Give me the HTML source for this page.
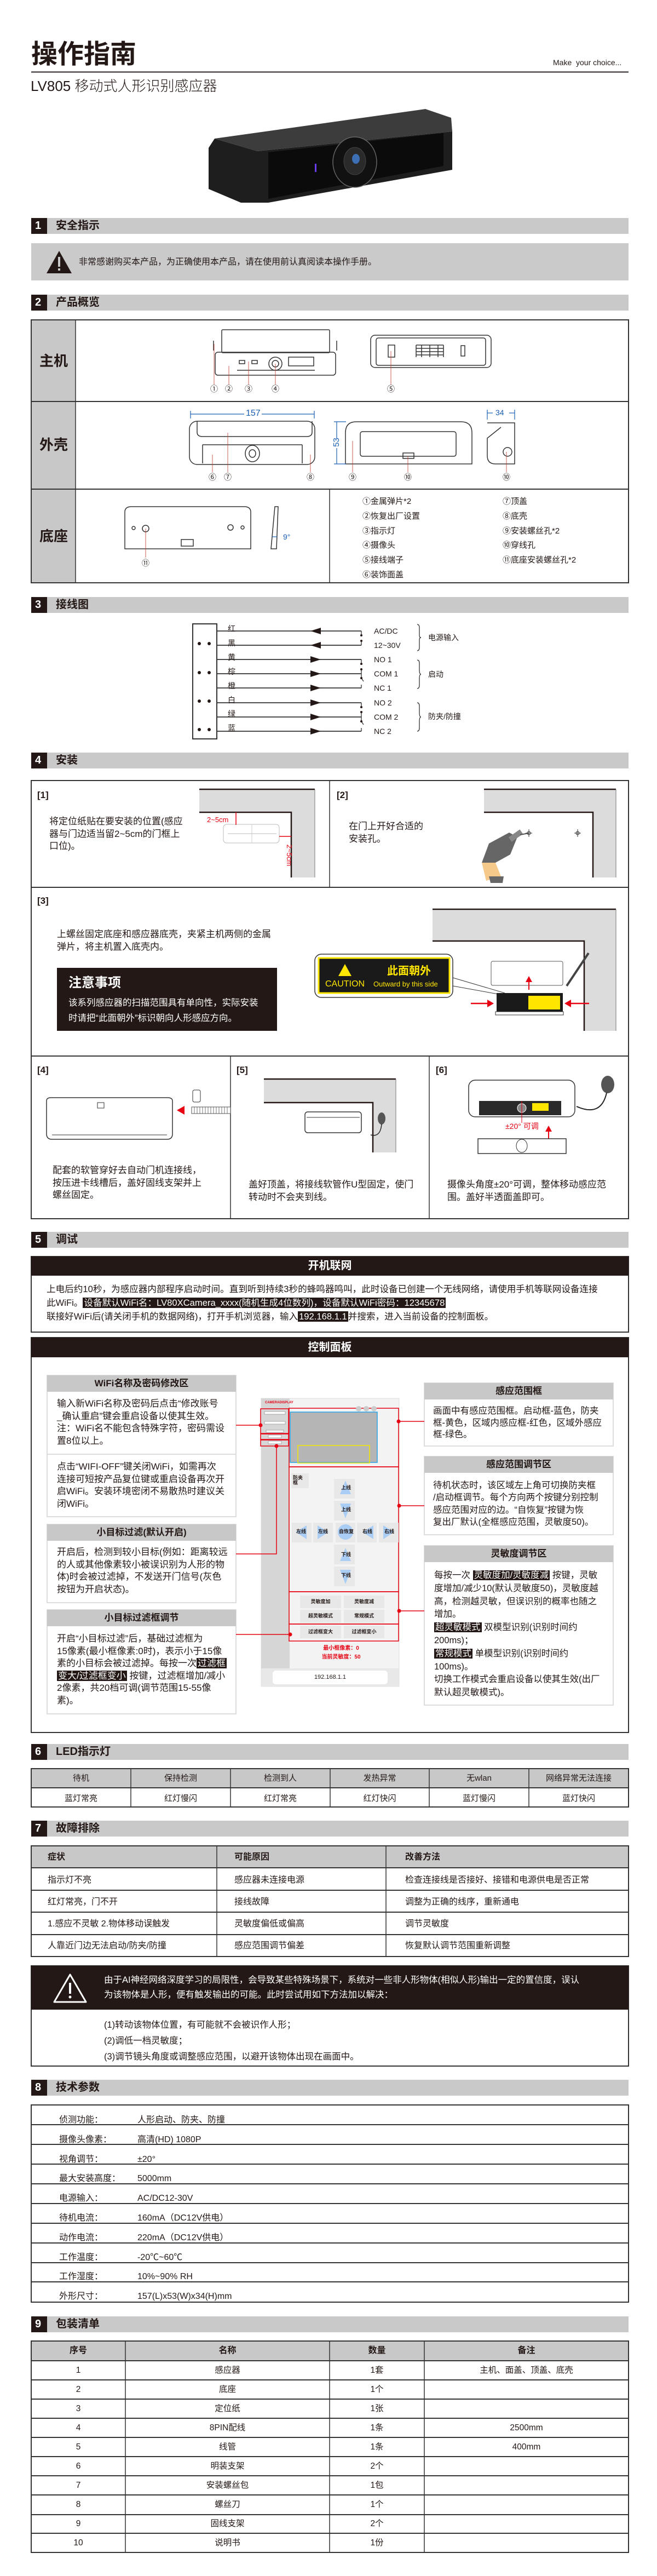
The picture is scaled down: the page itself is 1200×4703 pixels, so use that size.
<!DOCTYPE html>
<html><head><meta charset="utf-8">
<style>
*{margin:0;padding:0;box-sizing:border-box}
html,body{width:1200px;height:4703px;background:#fff;overflow:hidden}
body{position:relative;font-family:"Liberation Sans Narrow","Liberation Sans","Noto Sans CJK SC",sans-serif;color:#231815}
.t{position:absolute;white-space:nowrap;line-height:1}
.p{position:absolute;white-space:nowrap;font-size:17px;line-height:22.5px;color:#231815}
.b{font-weight:bold}
.c{text-align:center}
.hl{background:#231815;color:#fff;padding:0 2px}
svg{position:absolute;left:0;top:0}
</style></head><body>
<svg width="1200" height="4703" viewBox="0 0 1200 4703" xmlns="http://www.w3.org/2000/svg">
<!-- title line -->
<rect x="57" y="130" width="1091" height="3" fill="#6e6969"/>
<!-- camera -->
<polygon points="392,253 777,199 824,215 826,240 470,276" fill="#3c3c3c"/>
<polygon points="392,253 470,276 826,240 826,310 490,370 440,370 381,345 381,270" fill="#1e1e1e"/>
<polygon points="490,278 810,243 810,303 490,363" fill="#0b0b0b"/>
<ellipse cx="648" cy="296" rx="40" ry="46" fill="#111" stroke="#666" stroke-width="1.5"/>
<ellipse cx="648" cy="294" rx="20" ry="25" fill="#2a2a2a" stroke="#444"/>
<ellipse cx="650" cy="290" rx="7" ry="9" fill="#3d6fb5"/>
<rect x="575" y="299" width="3" height="15" fill="#6a3df0"/>

<!-- section header bars -->
<g fill="#c9c9c9">
<rect x="57" y="398" width="1091" height="29"/><rect x="57" y="538" width="1091" height="29"/>
<rect x="57" y="1090" width="1091" height="29"/><rect x="57" y="1374" width="1091" height="29"/>
<rect x="57" y="2249" width="1091" height="29"/><rect x="57" y="3184" width="1091" height="29"/>
<rect x="57" y="3324" width="1091" height="29"/><rect x="57" y="3797" width="1091" height="29"/>
<rect x="57" y="4229" width="1091" height="29"/>
</g>
<g fill="#231815">
<rect x="57" y="398" width="29" height="29"/><rect x="57" y="538" width="29" height="29"/>
<rect x="57" y="1090" width="29" height="29"/><rect x="57" y="1374" width="29" height="29"/>
<rect x="57" y="2249" width="29" height="29"/><rect x="57" y="3184" width="29" height="29"/>
<rect x="57" y="3324" width="29" height="29"/><rect x="57" y="3797" width="29" height="29"/>
<rect x="57" y="4229" width="29" height="29"/>
</g>

<!-- warning box -->
<rect x="57" y="444" width="1091" height="68" fill="#cacaca"/>
<polygon points="108,458 131,499 85,499" fill="#231815"/>
<rect x="106" y="469" width="4" height="18" fill="#cacaca"/><rect x="106" y="490" width="4" height="4" fill="#cacaca"/>

<!-- overview table -->
<rect x="57" y="584" width="81" height="480" fill="#c8c8c8"/>
<rect x="57" y="584" width="1091" height="480" fill="none" stroke="#333" stroke-width="2"/>
<line x1="57" y1="733" x2="1148" y2="733" stroke="#333" stroke-width="2"/>
<line x1="57" y1="893" x2="1148" y2="893" stroke="#333" stroke-width="2"/>
<line x1="138" y1="584" x2="138" y2="1064" stroke="#333" stroke-width="1.5"/>
<line x1="602" y1="893" x2="602" y2="1064" stroke="#333" stroke-width="1.5"/>
<g fill="none" stroke="#333" stroke-width="1.5">
 <!-- row1 front -->
 <rect x="405" y="602" width="197" height="42" rx="2"/>
 <path d="M390,640 L390,622 M615,640 L615,622"/>
 <rect x="393" y="643" width="220" height="42" rx="5"/>
 <line x1="433" y1="676" x2="575" y2="676"/>
 <circle cx="503" cy="664" r="12"/><circle cx="503" cy="664" r="6"/>
 <rect x="527" y="652" width="46" height="16"/>
 <rect x="437" y="658" width="10" height="6"/><rect x="460" y="658" width="10" height="6"/>
 <!-- row1 back -->
 <rect x="677" y="612" width="220" height="59" rx="8"/>
 <rect x="687" y="617" width="200" height="50" rx="4"/>
 <rect x="709" y="630" width="12" height="22"/>
 <rect x="842" y="631" width="7" height="19"/>
 <path d="M760,630h50M760,636h50M760,642h50M760,648h50M760,630v22M770,630v22M785,630v22M800,630v22M810,630v22"/>
 <!-- row2 -->
 <rect x="346" y="769" width="229" height="79" rx="14"/>
 <path d="M360,769 v20 q0,8 10,8 h190 q10,0 10,-8 v-20"/>
 <line x1="370" y1="812" x2="552" y2="812"/><line x1="370" y1="812" x2="370" y2="846"/><line x1="552" y1="812" x2="552" y2="846"/>
 <ellipse cx="461" cy="828" rx="13" ry="15"/><ellipse cx="461" cy="828" rx="6" ry="7"/>
 <path d="M631,847 V790 q0,-20 20,-20 H842 q20,0 20,20 V847 Z"/>
 <rect x="658" y="788" width="175" height="45" rx="4"/>
 <rect x="736" y="827" width="20" height="10"/>
 <path d="M890,772 H940 V847 H905 q-15,0 -15,-15 V800 l25,-20"/>
 <circle cx="927" cy="825" r="8"/>
 <!-- row3 -->
 <path d="M228,1002 V935 q0,-10 12,-10 H446 q12,0 12,10 V1002 Z"/>
 <circle cx="266" cy="965" r="6"/><circle cx="421" cy="963" r="5"/><circle cx="244" cy="964" r="3"/><circle cx="443" cy="963" r="3"/>
 <rect x="331" y="985" width="22" height="12"/>
 <path d="M495,1002 L502,925 L508,925 L505,1002 Z"/>
</g>
<g stroke="#1a5fb4" stroke-width="1.2" fill="#1a5fb4">
 <line x1="348" y1="756" x2="446" y2="756"/><line x1="478" y1="756" x2="574" y2="756"/>
 <line x1="348" y1="750" x2="348" y2="764"/><line x1="574" y1="750" x2="574" y2="764"/>
 <line x1="615" y1="770" x2="615" y2="800"/><line x1="615" y1="818" x2="615" y2="847"/>
 <line x1="610" y1="770" x2="632" y2="770"/><line x1="610" y1="847" x2="632" y2="847"/>
 <line x1="890" y1="754" x2="900" y2="754"/><line x1="930" y1="754" x2="940" y2="754"/>
 <line x1="890" y1="748" x2="890" y2="766"/><line x1="940" y1="748" x2="940" y2="766"/>
 <line x1="497" y1="980" x2="506" y2="980"/>
</g>
<g stroke="#c0392b" stroke-width="0.8">
 <line x1="391" y1="628" x2="391" y2="702"/><line x1="418" y1="668" x2="418" y2="702"/>
 <line x1="454" y1="660" x2="454" y2="702"/><line x1="503" y1="664" x2="503" y2="702"/>
 <line x1="714" y1="641" x2="714" y2="702"/>
 <line x1="388" y1="830" x2="388" y2="862"/><line x1="416" y1="790" x2="416" y2="862"/>
 <line x1="567" y1="830" x2="567" y2="862"/><line x1="644" y1="805" x2="644" y2="862"/>
 <line x1="745" y1="833" x2="745" y2="862"/><line x1="925" y1="825" x2="925" y2="862"/>
 <line x1="266" y1="965" x2="266" y2="1018"/>
</g>

<!-- wiring -->
<rect x="352" y="1139" width="44" height="210" fill="none" stroke="#333" stroke-width="2"/>
<g fill="#231815">
<circle cx="364" cy="1175" r="3"/><circle cx="382" cy="1175" r="3"/>
<circle cx="364" cy="1228" r="3"/><circle cx="382" cy="1228" r="3"/>
<circle cx="364" cy="1280" r="3"/><circle cx="382" cy="1280" r="3"/>
<circle cx="364" cy="1332" r="3"/><circle cx="382" cy="1332" r="3"/>
</g>
<g stroke="#333" stroke-width="1.8">
<line x1="396" y1="1152" x2="660" y2="1152"/><line x1="396" y1="1178" x2="660" y2="1178"/>
<line x1="396" y1="1204" x2="660" y2="1204"/><line x1="396" y1="1230" x2="660" y2="1230"/>
<line x1="396" y1="1256" x2="660" y2="1256"/><line x1="396" y1="1283" x2="660" y2="1283"/>
<line x1="396" y1="1309" x2="660" y2="1309"/><line x1="396" y1="1335" x2="660" y2="1335"/>
</g>
<g fill="#231815">
<polygon points="567,1152 586,1146 586,1158"/><polygon points="567,1178 586,1172 586,1184"/>
<polygon points="586,1204 567,1198 567,1210"/><polygon points="586,1230 567,1224 567,1236"/>
<polygon points="586,1256 567,1250 567,1262"/><polygon points="586,1283 567,1277 567,1289"/>
<polygon points="586,1309 567,1303 567,1315"/><polygon points="586,1335 567,1329 567,1341"/>
</g>
<g stroke="#333" stroke-width="1.3" fill="none">
<path d="M660,1152 v6 M660,1172 v6 M660,1204 v6 M660,1220 v10 M660,1230 v8 l4,6 M660,1256 v-6"/>
<path d="M660,1283 v6 M660,1299 v10 M660,1309 v8 l4,6 M660,1335 v-6"/>
<path d="M762,1140 q4,0 4,6 v14 q0,4 3,4 q-3,0 -3,4 v14 q0,6 -4,6"/>
<path d="M762,1205 q4,0 4,6 v12 q0,8 3,8 q-3,0 -3,8 v12 q0,6 -4,6"/>
<path d="M762,1283 q4,0 4,6 v12 q0,8 3,8 q-3,0 -3,8 v12 q0,6 -4,6"/>
</g>
<g fill="#231815"><circle cx="660" cy="1160" r="2"/><circle cx="660" cy="1170" r="2"/><circle cx="660" cy="1212" r="2"/><circle cx="660" cy="1222" r="2"/><circle cx="660" cy="1238" r="2"/><circle cx="660" cy="1291" r="2"/><circle cx="660" cy="1300" r="2"/><circle cx="660" cy="1317" r="2"/></g>

<!-- install box -->
<rect x="57" y="1425" width="1091" height="800" fill="none" stroke="#333" stroke-width="2"/>
<line x1="57" y1="1620" x2="1148" y2="1620" stroke="#333" stroke-width="2"/>
<line x1="57" y1="1928" x2="1148" y2="1928" stroke="#333" stroke-width="2"/>
<line x1="602" y1="1425" x2="602" y2="1620" stroke="#333" stroke-width="1.5"/>
<line x1="421" y1="1928" x2="421" y2="2225" stroke="#333" stroke-width="1.5"/>
<line x1="784" y1="1928" x2="784" y2="2225" stroke="#333" stroke-width="1.5"/>
<!-- doors -->
<g fill="#dcdcdc">
<polygon points="364,1441 575,1441 575,1602 532,1602 532,1483 364,1483"/>
<polygon points="884,1441 1125,1441 1125,1602 1083,1602 1083,1483 884,1483"/>
<polygon points="790,1660 1125,1660 1125,1882 1067,1882 1067,1718 790,1718"/>
<polygon points="482,1970 723,1970 723,2104 681,2104 681,2013 482,2013"/>
</g>
<g stroke="#231815" stroke-width="2.5" fill="none">
<path d="M364,1441 H575"/><path d="M364,1483 H532 V1602"/>
<path d="M884,1441 H1125"/><path d="M884,1483 H1083 V1602"/>
<path d="M790,1660 H1125"/><path d="M790,1718 H1067 V1882"/>
<path d="M482,1970 H723"/><path d="M482,2013 H681 V2104"/>
</g>
<g stroke="#777" stroke-width="1" fill="none">
<path d="M575,1441 V1602 M1125,1441 V1602 M1125,1660 V1882 M723,1970 V2104"/>
</g>
<!-- [1] template -->
<rect x="408" y="1505" width="102" height="34" rx="6" fill="none" stroke="#bbb" stroke-width="1"/>
<line x1="416" y1="1522" x2="505" y2="1522" stroke="#bbb"/><line x1="460" y1="1505" x2="460" y2="1539" stroke="#ccc"/>
<line x1="431" y1="1483" x2="431" y2="1506" stroke="#e60012" stroke-width="1.5"/>
<line x1="510" y1="1527" x2="532" y2="1527" stroke="#e60012" stroke-width="1.5"/>
<!-- [2] drill -->
<polygon points="880,1575 893,1540 930,1520 945,1528 932,1560 905,1575" fill="#666"/>
<rect x="930" y="1522" width="25" height="10" fill="#888" transform="rotate(-35 940 1527)"/>
<line x1="950" y1="1524" x2="966" y2="1521" stroke="#555" stroke-width="2"/>
<polygon points="880,1575 905,1575 915,1600 888,1608" fill="#f5c98a"/>
<polygon points="893,1600 920,1600 918,1612 896,1612" fill="#666"/>
<g stroke="#333" fill="none"><circle cx="966" cy="1521" r="3"/><circle cx="1055" cy="1521" r="3"/><path d="M966,1514v14M1055,1514v14M960,1521h12M1049,1521h12"/></g>
<!-- [3] caution -->
<rect x="575" y="1742" width="252" height="79" rx="12" fill="#fff" stroke="#333" stroke-width="1.5"/>
<rect x="582" y="1749" width="239" height="64" fill="#1a1a1a" stroke="#ffe600" stroke-width="3"/>
<polygon points="630,1760 642,1782 618,1782" fill="#ffe600"/>
<path d="M827,1785 L922,1813 M827,1800 L910,1815" stroke="#333" fill="none"/>
<rect x="897" y="1755" width="131" height="44" rx="3" fill="#fff" stroke="#555"/>
<rect x="907" y="1813" width="121" height="34" fill="#1a1a1a"/>
<rect x="905" y="1847" width="124" height="6" fill="#fff" stroke="#333"/>
<rect x="965" y="1818" width="58" height="25" fill="#ffe600"/>
<line x1="966" y1="1807" x2="966" y2="1790" stroke="#e60012" stroke-width="2"/>
<polygon points="966,1782 960,1793 972,1793" fill="#e60012"/>
<line x1="860" y1="1832" x2="893" y2="1832" stroke="#e60012" stroke-width="2.5"/>
<polygon points="902,1832 890,1825 890,1839" fill="#e60012"/>
<line x1="1040" y1="1832" x2="1076" y2="1832" stroke="#e60012" stroke-width="2.5"/>
<polygon points="1031,1832 1043,1825 1043,1839" fill="#e60012"/>
<line x1="1035" y1="1800" x2="1075" y2="1740" stroke="#444" stroke-width="4"/>
<!-- [4] -->
<path d="M85,2010 q0,-6 8,-6 H306 q9,0 9,6 V2070 q0,10 -10,10 H95 q-10,0 -10,-10 Z" fill="none" stroke="#333" stroke-width="1.5"/>
<path d="M95,2072 H305" stroke="#333"/>
<rect x="178" y="2013" width="12" height="10" fill="none" stroke="#333"/>
<rect x="350" y="2021" width="71" height="12" fill="#fff" stroke="#555"/>
<path d="M355,2021v12M360,2021v12M365,2021v12M370,2021v12M375,2021v12M380,2021v12M385,2021v12M390,2021v12M395,2021v12M400,2021v12M405,2021v12M410,2021v12M415,2021v12" stroke="#555" stroke-width="0.8"/>
<polygon points="323,2027 337,2019 337,2035" fill="#e60012"/>
<rect x="352" y="1990" width="14" height="22" rx="3" fill="none" stroke="#333"/>
<!-- [5] -->
<rect x="557" y="2030" width="103" height="38" rx="5" fill="#fff" stroke="#333" stroke-width="1.5"/>
<line x1="560" y1="2040" x2="657" y2="2040" stroke="#333"/>
<ellipse cx="697" cy="2042" rx="7" ry="11" fill="#555"/>
<path d="M697,2052 q-2,25 -20,20" stroke="#222" fill="none" stroke-width="1.5"/>
<!-- [6] -->
<rect x="856" y="1972" width="194" height="67" rx="12" fill="#fff" stroke="#333" stroke-width="1.5"/>
<rect x="875" y="2010" width="150" height="26" fill="#2a2a2a"/>
<rect x="972" y="2014" width="30" height="14" fill="#ffe600"/>
<circle cx="953" cy="2023" r="8" fill="#888" stroke="#fff"/>
<ellipse cx="1110" cy="1980" rx="12" ry="16" fill="#555"/>
<path d="M1108,1995 q-10,45 -55,25" stroke="#222" fill="none" stroke-width="2"/>
<line x1="953" y1="2010" x2="953" y2="2050" stroke="#e60012"/>
<line x1="1002" y1="2086" x2="1002" y2="2063" stroke="#e60012" stroke-width="2"/>
<polygon points="1002,2055 996,2066 1008,2066" fill="#e60012"/>
<rect x="873" y="2079" width="161" height="27" fill="#fff" stroke="#333" stroke-width="1.5"/>
<ellipse cx="953" cy="2092" rx="10" ry="12" fill="none" stroke="#333"/>

<!-- 开机联网 -->
<rect x="57" y="2294" width="1091" height="138" fill="none" stroke="#333" stroke-width="2"/>
<rect x="57" y="2294" width="1091" height="35" fill="#231815"/>
<!-- 控制面板 -->
<rect x="57" y="2442" width="1091" height="721" fill="none" stroke="#333" stroke-width="2"/>
<rect x="57" y="2442" width="1091" height="36" fill="#231815"/>
<!-- side boxes -->
<g fill="#fff" stroke="#ddd" stroke-width="2">
<rect x="86" y="2511" width="345" height="258"/>
<rect x="86" y="2783" width="345" height="143"/>
<rect x="86" y="2939" width="345" height="190"/>
<rect x="775" y="2525" width="345" height="115"/>
<rect x="775" y="2659" width="345" height="143"/>
<rect x="775" y="2822" width="345" height="291"/>
</g>
<line x1="86" y1="2655" x2="431" y2="2655" stroke="#ddd" stroke-width="2"/>
<g fill="#c8c8c8">
<rect x="86" y="2511" width="345" height="30"/><rect x="86" y="2783" width="345" height="30"/>
<rect x="86" y="2939" width="345" height="30"/><rect x="775" y="2525" width="345" height="30"/>
<rect x="775" y="2659" width="345" height="30"/><rect x="775" y="2822" width="345" height="30"/>
</g>
<!-- phone mock -->
<rect x="477" y="2553" width="252" height="526" fill="#f3f3f3" stroke="#ddd"/>
<rect x="477" y="2553" width="52" height="493" fill="#d6d6d6"/>
<rect x="477" y="3046" width="252" height="33" fill="#e8e8e8"/>
<rect x="498" y="3050" width="210" height="25" rx="6" fill="#fff"/>
<g fill="none" stroke="#e60012" stroke-width="1.5">
<rect x="528" y="2571" width="200" height="107"/>
<rect x="528" y="2678" width="200" height="228"/>
<rect x="528" y="2906" width="200" height="59"/>
<rect x="528" y="2965" width="200" height="31"/>
<rect x="476" y="2572" width="51" height="45"/>
<rect x="476" y="2618" width="51" height="10"/>
<rect x="476" y="2629" width="51" height="11"/>
<path d="M431,2602 H476 M728,2595 H775 M729,2749 H775 M729,2941 H775 M431,2984 H530 M431,2837 H505 V2638"/>
</g>
<g fill="#e60012"><circle cx="476" cy="2602" r="3.5"/><circle cx="728" cy="2595" r="3.5"/><circle cx="729" cy="2749" r="3.5"/><circle cx="729" cy="2941" r="3.5"/><circle cx="530" cy="2984" r="3.5"/><circle cx="505" cy="2640" r="3.5"/></g>
<rect x="530" y="2578" width="159" height="92" fill="#b5b5b5" stroke="#29a3e8" stroke-width="1.5"/>
<rect x="544" y="2639" width="131" height="32" fill="none" stroke="#f2e600" stroke-width="1.5"/>
<g fill="#ccc"><circle cx="655" cy="2572" r="5"/><circle cx="669" cy="2572" r="5"/><circle cx="683" cy="2572" r="5"/></g>
<g fill="#fff" stroke="#999" stroke-width="0.8">
<rect x="483" y="2577" width="38" height="5"/><rect x="483" y="2595" width="38" height="5"/><rect x="486" y="2611" width="32" height="4"/>
<rect x="490" y="2620" width="24" height="5"/><rect x="490" y="2631" width="24" height="5"/>
</g>
<g fill="#e8e8e8"><rect x="610" y="2700" width="38" height="36"/><rect x="610" y="2740" width="38" height="36"/><rect x="610" y="2820" width="38" height="36"/><rect x="610" y="2860" width="38" height="36"/>
<rect x="533" y="2780" width="36" height="36"/><rect x="572" y="2780" width="36" height="36"/><rect x="613" y="2780" width="36" height="36"/><rect x="652" y="2780" width="36" height="36"/><rect x="692" y="2780" width="36" height="36"/>
<rect x="548" y="2913" width="75" height="23"/><rect x="628" y="2913" width="74" height="23"/><rect x="548" y="2939" width="75" height="24"/><rect x="628" y="2939" width="74" height="24"/><rect x="548" y="2968" width="75" height="23"/><rect x="628" y="2968" width="74" height="23"/>
<rect x="532" y="2690" width="32" height="27"/></g>
<g fill="#a9cdf5">
<polygon points="631,2703 641,2728 621,2728"/><polygon points="631,2772 641,2745 621,2745"/>
<polygon points="631,2826 641,2850 621,2850"/><polygon points="631,2892 641,2866 621,2866"/>
<polygon points="540,2797 560,2785 560,2810"/><polygon points="600,2797 580,2785 580,2810"/>
<polygon points="662,2797 682,2785 682,2810"/><polygon points="720,2797 700,2785 700,2810"/>
<circle cx="631" cy="2797" r="14"/>
</g>
<!-- LED table -->
<rect x="57" y="3229" width="1091" height="35" fill="#c8c8c8"/>
<rect x="57" y="3229" width="1091" height="70" fill="none" stroke="#333" stroke-width="2"/>
<line x1="57" y1="3264" x2="1148" y2="3264" stroke="#333" stroke-width="2"/>
<g stroke="#333" stroke-width="1.5"><line x1="239" y1="3229" x2="239" y2="3299"/><line x1="421" y1="3229" x2="421" y2="3299"/><line x1="603" y1="3229" x2="603" y2="3299"/><line x1="784" y1="3229" x2="784" y2="3299"/><line x1="966" y1="3229" x2="966" y2="3299"/></g>
<!-- fault table -->
<rect x="57" y="3370" width="1091" height="40" fill="#c8c8c8"/>
<rect x="57" y="3370" width="1091" height="202" fill="none" stroke="#333" stroke-width="2"/>
<g stroke="#333" stroke-width="2"><line x1="57" y1="3410" x2="1148" y2="3410"/><line x1="57" y1="3451" x2="1148" y2="3451"/><line x1="57" y1="3491" x2="1148" y2="3491"/><line x1="57" y1="3532" x2="1148" y2="3532"/></g>
<g stroke="#333" stroke-width="1.5"><line x1="396" y1="3370" x2="396" y2="3572"/><line x1="705" y1="3370" x2="705" y2="3572"/></g>
<!-- AI box -->
<rect x="57" y="3589" width="1091" height="183" fill="none" stroke="#333" stroke-width="2"/>
<rect x="57" y="3589" width="1091" height="80" fill="#231815"/>
<polygon points="128,3605 157,3655 99,3655" fill="none" stroke="#fff" stroke-width="3" stroke-linejoin="round"/>
<rect x="126" y="3620" width="4" height="20" fill="#fff"/><circle cx="128" cy="3646" r="2.5" fill="#fff"/>
<!-- tech table -->
<rect x="57" y="3843" width="1091" height="360" fill="none" stroke="#333" stroke-width="2"/>
<g stroke="#333" stroke-width="2">
<line x1="57" y1="3879" x2="1148" y2="3879"/><line x1="57" y1="3915" x2="1148" y2="3915"/><line x1="57" y1="3951" x2="1148" y2="3951"/><line x1="57" y1="3987" x2="1148" y2="3987"/><line x1="57" y1="4023" x2="1148" y2="4023"/><line x1="57" y1="4059" x2="1148" y2="4059"/><line x1="57" y1="4095" x2="1148" y2="4095"/><line x1="57" y1="4131" x2="1148" y2="4131"/><line x1="57" y1="4166" x2="1148" y2="4166"/>
</g>
<!-- package table -->
<rect x="57" y="4274" width="1091" height="36" fill="#c8c8c8"/>
<rect x="57" y="4274" width="1091" height="386" fill="none" stroke="#333" stroke-width="2"/>
<g stroke="#333" stroke-width="2">
<line x1="57" y1="4310" x2="1148" y2="4310"/><line x1="57" y1="4345" x2="1148" y2="4345"/><line x1="57" y1="4380" x2="1148" y2="4380"/><line x1="57" y1="4415" x2="1148" y2="4415"/><line x1="57" y1="4450" x2="1148" y2="4450"/><line x1="57" y1="4485" x2="1148" y2="4485"/><line x1="57" y1="4520" x2="1148" y2="4520"/><line x1="57" y1="4555" x2="1148" y2="4555"/><line x1="57" y1="4591" x2="1148" y2="4591"/><line x1="57" y1="4625" x2="1148" y2="4625"/>
</g>
<g stroke="#333" stroke-width="1.5"><line x1="229" y1="4274" x2="229" y2="4660"/><line x1="602" y1="4274" x2="602" y2="4660"/><line x1="775" y1="4274" x2="775" y2="4660"/></g>
</svg>

<!-- ===== TEXT ===== -->
<div class="t b" style="left:57px;top:76px;font-size:48px">操作指南</div>
<div class="t" style="left:1010px;top:107px;font-size:14px">Make&nbsp; your choice...</div>
<div class="t" style="left:56px;top:144px;font-size:26px;font-weight:300">LV805 移动式人形识别感应器</div>

<div class="t b" style="left:64px;top:402px;font-size:20px;color:#fff">1</div><div class="t b" style="left:102px;top:402px;font-size:20px">安全指示</div>
<div class="t b" style="left:64px;top:542px;font-size:20px;color:#fff">2</div><div class="t b" style="left:102px;top:542px;font-size:20px">产品概览</div>
<div class="t b" style="left:64px;top:1094px;font-size:20px;color:#fff">3</div><div class="t b" style="left:102px;top:1094px;font-size:20px">接线图</div>
<div class="t b" style="left:64px;top:1378px;font-size:20px;color:#fff">4</div><div class="t b" style="left:102px;top:1378px;font-size:20px">安装</div>
<div class="t b" style="left:64px;top:2253px;font-size:20px;color:#fff">5</div><div class="t b" style="left:102px;top:2253px;font-size:20px">调试</div>
<div class="t b" style="left:64px;top:3188px;font-size:20px;color:#fff">6</div><div class="t b" style="left:102px;top:3188px;font-size:20px">LED指示灯</div>
<div class="t b" style="left:64px;top:3328px;font-size:20px;color:#fff">7</div><div class="t b" style="left:102px;top:3328px;font-size:20px">故障排除</div>
<div class="t b" style="left:64px;top:3801px;font-size:20px;color:#fff">8</div><div class="t b" style="left:102px;top:3801px;font-size:20px">技术参数</div>
<div class="t b" style="left:64px;top:4233px;font-size:20px;color:#fff">9</div><div class="t b" style="left:102px;top:4233px;font-size:20px">包装清单</div>

<div class="t" style="left:144px;top:471px;font-size:16px">非常感谢购买本产品，为正确使用本产品，请在使用前认真阅读本操作手册。</div>

<!-- overview -->
<div class="t b" style="left:72px;top:646px;font-size:26px">主机</div>
<div class="t b" style="left:72px;top:799px;font-size:26px">外壳</div>
<div class="t b" style="left:72px;top:966px;font-size:26px">底座</div>
<div class="t" style="left:384px;top:703px;font-size:14px">①</div><div class="t" style="left:411px;top:703px;font-size:14px">②</div><div class="t" style="left:447px;top:703px;font-size:14px">③</div><div class="t" style="left:496px;top:703px;font-size:14px">④</div><div class="t" style="left:707px;top:703px;font-size:14px">⑤</div>
<div class="t" style="left:381px;top:864px;font-size:14px">⑥</div><div class="t" style="left:409px;top:864px;font-size:14px">⑦</div><div class="t" style="left:560px;top:864px;font-size:14px">⑧</div><div class="t" style="left:637px;top:864px;font-size:14px">⑨</div><div class="t" style="left:738px;top:864px;font-size:14px">⑩</div><div class="t" style="left:918px;top:864px;font-size:14px">⑩</div>
<div class="t" style="left:259px;top:1021px;font-size:14px">⑪</div>
<div class="t" style="left:449px;top:747px;font-size:16px;color:#1a5fb4">157</div>
<div class="t" style="left:606px;top:800px;font-size:15px;color:#1a5fb4;transform:rotate(-90deg)">53</div>
<div class="t" style="left:905px;top:746px;font-size:14px;color:#1a5fb4">34</div>
<div class="t" style="left:517px;top:973px;font-size:14px;color:#1a5fb4">9°</div>
<div class="p" style="left:662px;top:903px;font-size:15px;line-height:26.8px">①金属弹片*2<br>②恢复出厂设置<br>③指示灯<br>④摄像头<br>⑤接线端子<br>⑥装饰面盖</div>
<div class="p" style="left:918px;top:903px;font-size:15px;line-height:26.8px">⑦顶盖<br>⑧底壳<br>⑨安装螺丝孔*2<br>⑩穿线孔<br>⑪底座安装螺丝孔*2</div>

<!-- wiring labels -->
<div class="p" style="left:416px;top:1136px;font-size:14px;line-height:25.9px">红<br>黑<br>黄<br>棕<br>橙<br>白<br>绿<br>蓝</div>
<div class="t" style="left:683px;top:1145px;font-size:14px">AC/DC</div>
<div class="t" style="left:683px;top:1171px;font-size:14px">12~30V</div>
<div class="t" style="left:683px;top:1197px;font-size:14px">NO 1</div>
<div class="t" style="left:683px;top:1223px;font-size:14px">COM 1</div>
<div class="t" style="left:683px;top:1249px;font-size:14px">NC 1</div>
<div class="t" style="left:683px;top:1276px;font-size:14px">NO 2</div>
<div class="t" style="left:683px;top:1302px;font-size:14px">COM 2</div>
<div class="t" style="left:683px;top:1328px;font-size:14px">NC 2</div>
<div class="t" style="left:782px;top:1157px;font-size:14px">电源输入</div>
<div class="t" style="left:782px;top:1224px;font-size:14px">启动</div>
<div class="t" style="left:782px;top:1301px;font-size:14px">防夹/防撞</div>

<!-- install texts -->
<div class="t b" style="left:68px;top:1443px;font-size:17px">[1]</div>
<div class="t b" style="left:615px;top:1443px;font-size:17px">[2]</div>
<div class="t b" style="left:68px;top:1636px;font-size:17px">[3]</div>
<div class="t b" style="left:68px;top:1945px;font-size:17px">[4]</div>
<div class="t b" style="left:432px;top:1945px;font-size:17px">[5]</div>
<div class="t b" style="left:796px;top:1945px;font-size:17px">[6]</div>
<div class="p" style="left:90px;top:1489px;font-size:17px;line-height:22.5px">将定位纸贴在要安装的位置(感应<br>器与门边适当留2~5cm的门框上<br>口位)。</div>
<div class="t" style="left:378px;top:1490px;font-size:13px;color:#e60012">2~5cm</div>
<div class="t" style="left:509px;top:1555px;font-size:13px;color:#e60012;transform:rotate(90deg)">2~5cm</div>
<div class="p" style="left:637px;top:1498px;font-size:17px;line-height:22.5px">在门上开好合适的<br>安装孔。</div>
<div class="p" style="left:104px;top:1695px;font-size:17px;line-height:22.5px">上螺丝固定底座和感应器底壳，夹紧主机两侧的金属<br>弹片，将主机置入底壳内。</div>
<div style="position:absolute;left:104px;top:1767px;width:402px;height:115px;background:#231815"></div>
<div class="t b" style="left:125px;top:1783px;font-size:24px;color:#fff">注意事项</div>
<div class="p" style="left:125px;top:1817px;font-size:16.5px;line-height:28px;color:#fff">该系列感应器的扫描范围具有单向性，实际安装<br>时请把“此面朝外”标识朝向人形感应方向。</div>
<div class="t b" style="left:707px;top:1763px;font-size:20px;color:#ffe600">此面朝外</div>
<div class="t" style="left:594px;top:1789px;font-size:16px;color:#ffe600">CAUTION</div>
<div class="t" style="left:682px;top:1790px;font-size:13px;color:#ffe600">Outward by this side</div>
<div class="p" style="left:96px;top:2126px;font-size:17px;line-height:22.5px">配套的软管穿好去自动门机连接线，<br>按压进卡线槽后，盖好固线支架并上<br>螺丝固定。</div>
<div class="p" style="left:454px;top:2152px;font-size:17px;line-height:22.5px">盖好顶盖，将接线软管作U型固定，使门<br>转动时不会夹到线。</div>
<div class="p" style="left:817px;top:2152px;font-size:17px;line-height:22.5px">摄像头角度±20°可调，整体移动感应范<br>围。盖好半透面盖即可。</div>
<div class="t" style="left:923px;top:2049px;font-size:14px;color:#e60012">±20° 可调</div>

<!-- 开机联网 -->
<div class="t b c" style="left:57px;width:1091px;top:2301px;font-size:20px;color:#fff">开机联网</div>
<div class="p" style="left:85px;top:2342px;font-size:16.6px;line-height:24.8px">上电后约10秒，为感应器内部程序启动时间。直到听到持续3秒的蜂鸣器鸣叫，此时设备已创建一个无线网络，请使用手机等联网设备连接<br>此WiFi。<span class="hl">设备默认WiFi名：LV80XCamera_xxxx(随机生成4位数列)，设备默认WiFi密码：12345678</span><br>联接好WiFi后(请关闭手机的数据网络)，打开手机浏览器，输入<span class="hl">192.168.1.1</span>并搜索，进入当前设备的控制面板。</div>

<!-- 控制面板 -->
<div class="t b c" style="left:57px;width:1091px;top:2450px;font-size:20px;color:#fff">控制面板</div>
<div class="t b c" style="left:86px;width:345px;top:2517px;font-size:17px">WiFi名称及密码修改区</div>
<div class="t b c" style="left:86px;width:345px;top:2789px;font-size:17px">小目标过滤(默认开启)</div>
<div class="t b c" style="left:86px;width:345px;top:2945px;font-size:17px">小目标过滤框调节</div>
<div class="t b c" style="left:775px;width:345px;top:2531px;font-size:17px">感应范围框</div>
<div class="t b c" style="left:775px;width:345px;top:2665px;font-size:17px">感应范围调节区</div>
<div class="t b c" style="left:775px;width:345px;top:2828px;font-size:17px">灵敏度调节区</div>
<div class="p" style="left:104px;top:2552px">输入新WiFi名称及密码后点击“修改账号<br>_确认重启”键会重启设备以使其生效。<br>注：WiFi名不能包含特殊字符，密码需设<br>置8位以上。</div>
<div class="p" style="left:104px;top:2667px">点击“WIFI-OFF”键关闭WiFi，如需再次<br>连接可短按产品复位键或重启设备再次开<br>启WiFi。安装环境密闭不易散热时建议关<br>闭WiFi。</div>
<div class="p" style="left:104px;top:2823px">开启后，检测到较小目标(例如：距离较远<br>的人或其他像素较小被误识别为人形的物<br>体)时会被过滤掉，不发送开门信号(灰色<br>按钮为开启状态)。</div>
<div class="p" style="left:104px;top:2981px;line-height:22.6px">开启“小目标过滤”后，基础过滤框为<br>15像素(最小框像素:0时)，表示小于15像<br>素的小目标会被过滤掉。每按一次<span class="hl">过滤框</span><br><span class="hl">变大/过滤框变小</span> 按键，过滤框增加/减小<br>2像素，共20档可调(调节范围15-55像<br>素)。</div>
<div class="p" style="left:791px;top:2566px;font-size:16.5px;line-height:21.5px">画面中有感应范围框。启动框-蓝色，防夹<br>框-黄色，区域内感应框-红色，区域外感应<br>框-绿色。</div>
<div class="p" style="left:791px;top:2701px;font-size:16.5px;line-height:22.4px">待机状态时，该区域左上角可切换防夹框<br>/启动框调节。每个方向两个按键分别控制<br>感应范围对应的边。“自恢复”按键为恢<br>复出厂默认(全框感应范围，灵敏度50)。</div>
<div class="p" style="left:793px;top:2865px;font-size:16.5px;line-height:23.8px">每按一次 <span class="hl">灵敏度加/灵敏度减</span> 按键，灵敏<br>度增加/减少10(默认灵敏度50)，灵敏度越<br>高，检测越灵敏，但误识别的概率也随之<br>增加。<br><span class="hl">超灵敏模式</span> 双模型识别(识别时间约<br>200ms)；<br><span class="hl">常规模式</span> 单模型识别(识别时间约<br>100ms)。<br>切换工作模式会重启设备以使其生效(出厂<br>默认超灵敏模式)。</div>
<!-- phone labels -->
<div class="t b" style="left:484px;top:2558px;font-size:6px;color:#e60012">CAMERADISPLAY</div>
<div class="t b" style="left:535px;top:2694px;font-size:9px">防夹<br>框</div>
<div class="t b" style="left:623px;top:2712px;font-size:9px">上线</div><div class="t b" style="left:623px;top:2752px;font-size:9px">上线</div>
<div class="t b" style="left:623px;top:2834px;font-size:9px">下线</div><div class="t b" style="left:623px;top:2872px;font-size:9px">下线</div>
<div class="t b" style="left:541px;top:2792px;font-size:9px">左线</div><div class="t b" style="left:581px;top:2792px;font-size:9px">左线</div><div class="t b" style="left:619px;top:2792px;font-size:9px">自恢复</div><div class="t b" style="left:662px;top:2792px;font-size:9px">右线</div><div class="t b" style="left:702px;top:2792px;font-size:9px">右线</div>
<div class="t b c" style="left:548px;width:75px;top:2920px;font-size:9px">灵敏度加</div><div class="t b c" style="left:628px;width:74px;top:2920px;font-size:9px">灵敏度减</div>
<div class="t b c" style="left:548px;width:75px;top:2946px;font-size:9px">超灵敏模式</div><div class="t b c" style="left:628px;width:74px;top:2946px;font-size:9px">常规模式</div>
<div class="t b c" style="left:548px;width:75px;top:2975px;font-size:9px">过滤框变大</div><div class="t b c" style="left:628px;width:74px;top:2975px;font-size:9px">过滤框变小</div>
<div class="t b c" style="left:560px;width:126px;top:3005px;font-size:10px;color:#e60012">最小框像素：0</div>
<div class="t b c" style="left:560px;width:126px;top:3021px;font-size:10px;color:#e60012">当前灵敏度：50</div>
<div class="t c" style="left:498px;width:210px;top:3057px;font-size:11px">192.168.1.1</div>

<!-- LED table -->
<div class="t c" style="left:57px;width:182px;top:3239px;font-size:15px">待机</div>
<div class="t c" style="left:239px;width:182px;top:3239px;font-size:15px">保持检测</div>
<div class="t c" style="left:421px;width:182px;top:3239px;font-size:15px">检测到人</div>
<div class="t c" style="left:603px;width:181px;top:3239px;font-size:15px">发热异常</div>
<div class="t c" style="left:784px;width:182px;top:3239px;font-size:15px">无wlan</div>
<div class="t c" style="left:966px;width:182px;top:3239px;font-size:15px">网络异常无法连接</div>
<div class="t c" style="left:57px;width:182px;top:3276px;font-size:15px">蓝灯常亮</div>
<div class="t c" style="left:239px;width:182px;top:3276px;font-size:15px">红灯慢闪</div>
<div class="t c" style="left:421px;width:182px;top:3276px;font-size:15px">红灯常亮</div>
<div class="t c" style="left:603px;width:181px;top:3276px;font-size:15px">红灯快闪</div>
<div class="t c" style="left:784px;width:182px;top:3276px;font-size:15px">蓝灯慢闪</div>
<div class="t c" style="left:966px;width:182px;top:3276px;font-size:15px">蓝灯快闪</div>

<!-- fault table -->
<div class="t b" style="left:87px;top:3383px;font-size:16px">症状</div><div class="t b" style="left:428px;top:3383px;font-size:16px">可能原因</div><div class="t b" style="left:740px;top:3383px;font-size:16px">改善方法</div>
<div class="t" style="left:87px;top:3425px;font-size:16px">指示灯不亮</div><div class="t" style="left:428px;top:3425px;font-size:16px">感应器未连接电源</div><div class="t" style="left:740px;top:3425px;font-size:16px">检查连接线是否接好、接错和电源供电是否正常</div>
<div class="t" style="left:87px;top:3465px;font-size:16px">红灯常亮，门不开</div><div class="t" style="left:428px;top:3465px;font-size:16px">接线故障</div><div class="t" style="left:740px;top:3465px;font-size:16px">调整为正确的线序，重新通电</div>
<div class="t" style="left:87px;top:3505px;font-size:16px">1.感应不灵敏 2.物体移动误触发</div><div class="t" style="left:428px;top:3505px;font-size:16px">灵敏度偏低或偏高</div><div class="t" style="left:740px;top:3505px;font-size:16px">调节灵敏度</div>
<div class="t" style="left:87px;top:3545px;font-size:16px">人靠近门边无法启动/防夹/防撞</div><div class="t" style="left:428px;top:3545px;font-size:16px">感应范围调节偏差</div><div class="t" style="left:740px;top:3545px;font-size:16px">恢复默认调节范围重新调整</div>

<!-- AI box -->
<div class="p" style="left:190px;top:3602px;font-size:16.5px;line-height:27px;color:#fff">由于AI神经网络深度学习的局限性，会导致某些特殊场景下，系统对一些非人形物体(相似人形)输出一定的置信度，误认<br>为该物体是人形，便有触发输出的可能。此时尝试用如下方法加以解决：</div>
<div class="p" style="left:190px;top:3683px;font-size:16.5px;line-height:29px">(1)转动该物体位置，有可能就不会被识作人形；<br>(2)调低一档灵敏度；<br>(3)调节镜头角度或调整感应范围，以避开该物体出现在画面中。</div>

<!-- tech table -->
<div class="p" style="left:108px;top:3853px;font-size:16px;line-height:35.8px">侦测功能：<br>摄像头像素：<br>视角调节：<br>最大安装高度：<br>电源输入：<br>待机电流：<br>动作电流：<br>工作温度：<br>工作湿度：<br>外形尺寸：</div>
<div class="p" style="left:251px;top:3853px;font-size:16px;line-height:35.8px">人形启动、防夹、防撞<br>高清(HD) 1080P<br>±20°<br>5000mm<br>AC/DC12-30V<br>160mA（DC12V供电）<br>220mA（DC12V供电）<br>-20℃~60℃<br>10%~90% RH<br>157(L)x53(W)x34(H)mm</div>

<!-- package -->
<div class="t b c" style="left:57px;width:172px;top:4284px;font-size:16px">序号</div>
<div class="t b c" style="left:229px;width:373px;top:4284px;font-size:16px">名称</div>
<div class="t b c" style="left:602px;width:173px;top:4284px;font-size:16px">数量</div>
<div class="t b c" style="left:775px;width:373px;top:4284px;font-size:16px">备注</div>
<div class="p c" style="left:57px;width:172px;top:4310px;font-size:15.5px;line-height:35px">1<br>2<br>3<br>4<br>5<br>6<br>7<br>8<br>9<br>10</div>
<div class="p c" style="left:229px;width:373px;top:4310px;font-size:15.5px;line-height:35px">感应器<br>底座<br>定位纸<br>8PIN配线<br>线管<br>明装支架<br>安装螺丝包<br>螺丝刀<br>固线支架<br>说明书</div>
<div class="p c" style="left:602px;width:173px;top:4310px;font-size:15.5px;line-height:35px">1套<br>1个<br>1张<br>1条<br>1条<br>2个<br>1包<br>1个<br>2个<br>1份</div>
<div class="p c" style="left:775px;width:373px;top:4310px;font-size:15.5px;line-height:35px">主机、面盖、顶盖、底壳<br>&nbsp;<br>&nbsp;<br>2500mm<br>400mm</div>
</body></html>
